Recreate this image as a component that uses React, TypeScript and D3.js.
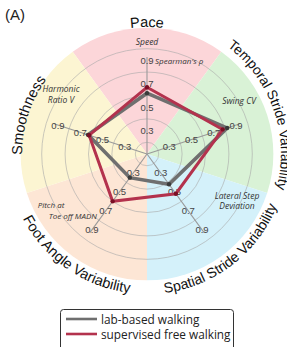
import React from 'react';
import { scaleLinear, arc as d3Arc, lineRadial, curveLinearClosed } from 'd3';

const W = 287;
const H = 347;

// radar data
const axisNames = [
  'Pace',
  'Temporal Stride Variability',
  'Spatial Stride Variability',
  'Foot Angle Variability',
  'Smoothness',
];
const labWalking = [0.62, 0.82, 0.42, 0.35, 0.63];
const freeWalking = [0.67, 0.78, 0.52, 0.6, 0.62];
const tickValues = [0.3, 0.5, 0.7, 0.9];
const gridValues = [0.2, 0.4, 0.6, 0.8, 1.0];
const sectorColors = ['#fcd6d9', '#d9f2d6', '#d4f1fa', '#fde6d5', '#fcf5d2'];
const legendItems = ['lab-based walking', 'supervised free walking'];

const GREY = '#6f6f6f';
const RED = '#b3324d';

export default function App() {
  const cx = 147;
  const cy = 154;
  const r = scaleLinear().domain([0.1, 0.9]).range([0, 93.6]);
  const step = (2 * Math.PI) / axisNames.length;
  const ang = (i: number) => i * step;
  const pt = (a: number, rad: number): [number, number] => [cx + rad * Math.sin(a), cy - rad * Math.cos(a)];

  const sector = d3Arc<any>()
    .innerRadius(0)
    .outerRadius(r(1.18))
    .startAngle((d: any) => d.a - step / 2)
    .endAngle((d: any) => d.a + step / 2);

  const radial = lineRadial<number>()
    .angle((_, i) => ang(i))
    .radius(d => r(d))
    .curve(curveLinearClosed);

  // curved label paths (baseline radius per group)
  const labelRadius = [127, 134, 140, 140, 125];
  const labelShift = [0, -0.02, -0.03, -0.02, 0];
  const labelSize = [14.5, 13.8, 14.2, 14.5, 14.5];
  const arcPath = (rad: number, a: number, clockwise: boolean) => {
    const span = 1.3;
    const a0 = clockwise ? a - span : a + span;
    const a1 = clockwise ? a + span : a - span;
    const [x0, y0] = pt(a0, rad);
    const [x1, y1] = pt(a1, rad);
    return `M${x0},${y0} A${rad},${rad} 0 0 ${clockwise ? 1 : 0} ${x1},${y1}`;
  };
  const isBottom = (i: number) => i === 2 || i === 3;

  const font = "'Liberation Sans', Arial, sans-serif";
  const ofont = "'Open Sans', 'Noto Sans', sans-serif";

  return (
    <svg
      width={W}
      height={H}
      viewBox={`0 0 ${W} ${H}`}
      style={{ position: 'absolute', left: 0, top: 0, background: '#fff' }}
    >
      <defs>
        {axisNames.map((_, i) => (
          <path
            key={i}
            id={`lab-${i}`}
            d={arcPath(labelRadius[i], ang(i) + labelShift[i], !isBottom(i))}
          />
        ))}
      </defs>

      <text x={5} y={20} fontFamily={font} fontSize={15} fill="#222">(A)</text>

      {/* coloured sectors */}
      <g transform={`translate(${cx},${cy})`}>
        {sectorColors.map((c, i) => (
          <path key={i} d={sector({ a: ang(i) }) || ''} fill={c} />
        ))}
        {gridValues.map(v => (
          <circle key={v} r={r(v)} fill="none" stroke="#a8a8a8" strokeWidth={0.6} />
        ))}
      </g>

      {/* axis lines */}
      {axisNames.map((_, i) => {
        const [x, y] = pt(ang(i), r(0.93));
        return <line key={i} x1={cx} y1={cy} x2={x} y2={y} stroke="#9a9a9a" strokeWidth={1.1} />;
      })}

      {/* tick labels */}
      {axisNames.map((_, i) =>
        tickValues.map(v => {
          const [x, y] = pt(ang(i), r(v));
          return (
            <text
              key={`${i}-${v}`}
              x={x}
              y={y}
              textAnchor="middle"
              dominantBaseline="central"
              fontFamily={font}
              fontSize={9.5}
              fill="#444"
            >
              {v.toFixed(1)}
            </text>
          );
        })
      )}

      {/* series */}
      <g transform={`translate(${cx},${cy})`}>
        <path d={radial(labWalking) || ''} fill="none" stroke={GREY} strokeWidth={3.6} strokeLinejoin="miter" />
        <path d={radial(freeWalking) || ''} fill="none" stroke={RED} strokeWidth={3} strokeLinejoin="miter" />
      </g>
      {labWalking.map((v, i) => {
        const [x, y] = pt(ang(i), r(v));
        return <circle key={`g${i}`} cx={x} cy={y} r={2.2} fill="#3a3a3a" />;
      })}
      {freeWalking.map((v, i) => {
        const [x, y] = pt(ang(i), r(v));
        return <circle key={`r${i}`} cx={x} cy={y} r={2.2} fill="#7a0f24" />;
      })}

      {/* metric names */}
      <g fontFamily={ofont} fontStyle="italic" fontSize={8.5} fill="#333" textAnchor="middle">
        <text x={147} y={45}>Speed</text>
        <text x={155} y={64} fontSize={8} textAnchor="start">Spearman's ρ</text>
        <text x={239} y={104}>Swing CV</text>
        <text x={61} y={92}>Harmonic</text>
        <text x={61} y={103}>Ratio V</text>
        <text x={237} y={199}>Lateral Step</text>
        <text x={237} y={209}>Deviation</text>
        <text x={51} y={208} fontSize={8}>Pitch at</text>
        <text x={97} y={219} fontSize={8} textAnchor="end">Toe off MADN</text>
      </g>

      {/* group names */}
      {axisNames.map((n, i) => (
        <text key={n} fontFamily={font} fontSize={labelSize[i]} fill="#111">
          <textPath href={`#lab-${i}`} startOffset="50%" textAnchor="middle">
            {n}
          </textPath>
        </text>
      ))}

      {/* legend */}
      <rect x={60.5} y={309.5} width={173} height={44} rx={3} fill="#fff" stroke="#333" strokeWidth={1} />
      {legendItems.map((t, i) => (
        <g key={t} transform={`translate(0,${319 + i * 15})`}>
          <line x1={66} x2={97} y1={0} y2={0} stroke={i === 0 ? GREY : RED} strokeWidth={2.6} />
          <text x={101} y={0} dominantBaseline="central" fontFamily={ofont} fontSize={11.8} fill="#222">
            {t}
          </text>
        </g>
      ))}
    </svg>
  );
}
